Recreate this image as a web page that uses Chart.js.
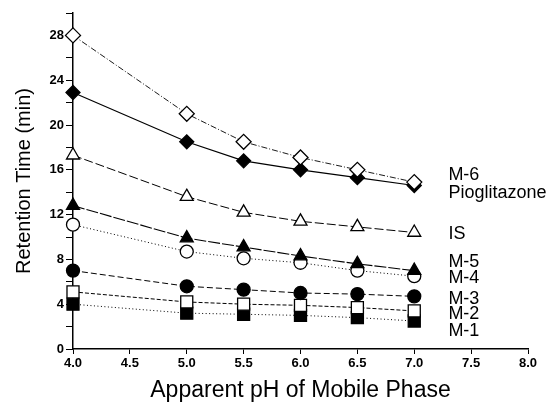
<!DOCTYPE html>
<html>
<head>
<meta charset="utf-8">
<script src="https://cdn.jsdelivr.net/npm/chart.js@4"></script>
<style>
  html,body{margin:0;padding:0;background:#fff}
  #wrap{width:549px;height:402px}
</style>
</head>
<body>
<div id="wrap"><canvas id="c" width="549" height="402"></canvas></div>
<script>
// pH values (x) and retention times (min) per compound
const ph = [4.0, 5.0, 5.5, 6.0, 6.5, 7.0];
const m6    = [28.0, 21.0, 18.5, 17.1, 16.0, 14.9];
const pio   = [22.9, 18.5, 16.8, 16.0, 15.3, 14.6];
const is    = [17.3, 13.6, 12.2, 11.4, 10.9, 10.4];
const m5    = [12.8, 9.9, 9.1, 8.3, 7.6, 7.0];
const m4    = [11.1, 8.7, 8.1, 7.7, 7.0, 6.5];
const m3    = [7.0, 5.6, 5.3, 5.0, 4.9, 4.7];
const m2    = [5.1, 4.2, 4.0, 3.9, 3.7, 3.4];
const m1    = [4.0, 3.2, 3.1, 3.0, 2.8, 2.5];

// right-hand labels: text and the y value (min) they sit at
const labelNames = ['M-6', 'Pioglitazone', 'IS', 'M-5', 'M-4', 'M-3', 'M-2', 'M-1'];
const labelY     = [15.5, 13.9, 10.3, 7.8, 6.3, 4.5, 3.1, 1.6];
const labelX     = 7.3;

const pts = arr => arr.map((v,i)=>({x:ph[i], y:v}));

function series(data, style, dash, filled, r, width){
  return {
    data: pts(data), pointStyle: style, pointRadius: r, pointHoverRadius: r,
    borderColor:'#000', borderWidth: width||1, borderDash: dash,
    pointBackgroundColor: filled ? '#000' : '#fff',
    pointBorderColor:'#000', pointBorderWidth:1.3,
    backgroundColor:'#000', fill:false, tension:0, clip:false
  };
}

const sideLabels = {
  id:'sideLabels',
  afterDatasetsDraw(chart){
    const {ctx, scales:{x,y}} = chart;
    ctx.save();
    ctx.fillStyle = '#000';
    ctx.font = '18px "Liberation Sans", Arial, sans-serif';
    ctx.textBaseline = 'middle';
    labelNames.forEach((t,i)=>ctx.fillText(t, x.getPixelForValue(labelX), y.getPixelForValue(labelY[i])));
    ctx.restore();
  }
};

Chart.defaults.font.family = '"Liberation Sans", Arial, sans-serif';
Chart.defaults.color = '#000';

new Chart(document.getElementById('c'), {
  type:'line',
  data:{ datasets:[
    series(m6,  'rectRot',  [6,2,1,2], false, 7.5, 0.9),
    series(pio, 'rectRot',  [],        true,  7,   1.2),
    series(is,  'triangle', [9,3],     false, 7.5, 1),
    series(m5,  'triangle', [12,2],    true,  7.5, 1.1),
    series(m4,  'circle',   [1,2.5],   false, 6.5, 1),
    series(m3,  'circle',   [6,3],     true,  6.5, 1),
    series(m2,  'rect',     [4,2],     false, 8.5, 1),
    series(m1,  'rect',     [1,2.5],   true,  8.5, 1)
  ]},
  options:{
    responsive:false, animation:false,
    layout:{ padding:{ top:13, right:21, left:0, bottom:0 } },
    plugins:{ legend:{display:false}, tooltip:{enabled:false} },
    scales:{
      x:{
        type:'linear', min:4, max:8,
        border:{ color:'#000', width:1.5 },
        grid:{ drawOnChartArea:false, drawTicks:true, tickLength:5, color:'#000' },
        ticks:{ stepSize:0.5, padding:2, font:{size:13, weight:'bold'}, maxRotation:0,
                callback:v=>v.toFixed(1) },
        title:{ display:true, text:'Apparent pH of Mobile Phase', font:{size:23}, padding:{top:4, bottom:-2} },
        afterFit(s){ s.height = 53; }
      },
      y:{
        type:'linear', min:0, max:30,
        border:{ color:'#000', width:1.5 },
        grid:{ drawOnChartArea:false, drawTicks:true, tickLength:7, color:'#000' },
        ticks:{ stepSize:2, padding:2, font:{size:13, weight:'bold'}, autoSkip:false,
                callback:v=>(v%4===0 && v<=28) ? String(v) : '' },
        title:{ display:true, text:'Retention Time (min)', font:{size:20}, padding:{top:12, bottom:4} },
        afterFit(s){ s.width = 73; }
      }
    }
  },
  plugins:[sideLabels]
});
</script>
</body>
</html>
